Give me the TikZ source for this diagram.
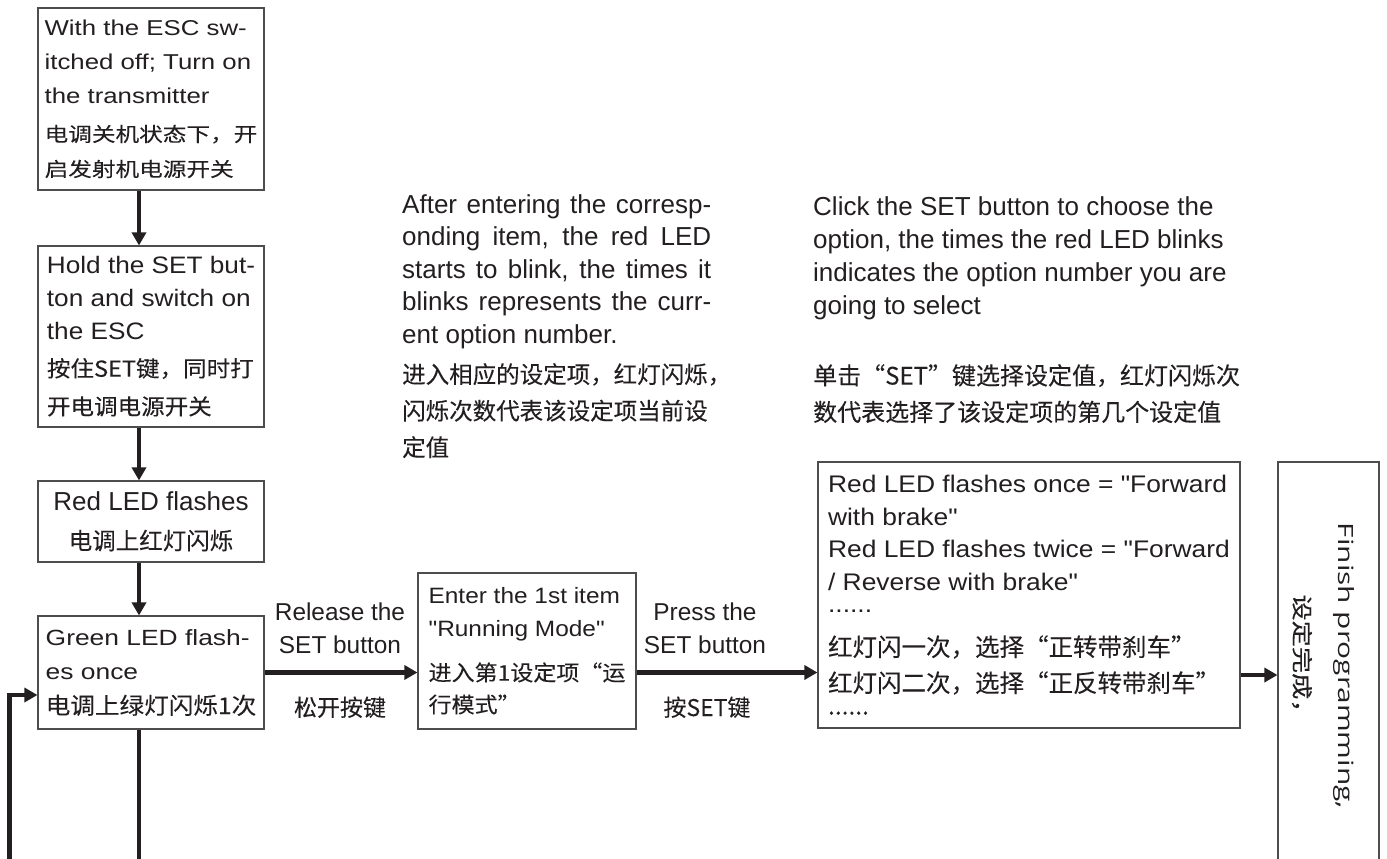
\documentclass[tikz,border=0pt]{standalone}
\usepackage{fontspec}
\setmainfont{Liberation Sans}
\newfontfamily\enA[FakeStretch=1.2]{Liberation Sans}
\newfontfamily\enB[FakeStretch=1.1]{Liberation Sans}
\newfontfamily\enC{Liberation Sans}
\newfontfamily\zhA[FakeStretch=1.2,FakeBold=0.12]{Noto Sans CJK SC}
\newfontfamily\zhB[FakeStretch=1.07,FakeBold=0.12]{Noto Sans CJK SC}
\newfontfamily\zhC[FakeBold=0.12]{Noto Sans CJK SC}
\newfontfamily\finEn[FakeStretch=1.42]{Open Sans}
\newfontfamily\finZh[FakeStretch=1.25,FakeBold=0.12]{Noto Sans CJK SC}
\usetikzlibrary{arrows.meta}
\definecolor{ink}{HTML}{231F20}
\definecolor{frame}{HTML}{4D4D4D}
\begin{document}
\begin{tikzpicture}[x=1pt,y=-1pt,
  box/.style={draw=frame, line width=1.1pt, inner sep=0pt, text=ink, align=left},
  lbl/.style={inner sep=0pt, text=ink, align=left},
  arr/.style={draw=ink, line width=4.5pt, -{Triangle[length=13pt,width=14pt]}},
  ln/.style={draw=ink, line width=4.5pt},
]
\useasboundingbox (0,0) rectangle (1387,859);
\coordinate (colx) at (139,0);

% left column boxes
\node[box, minimum width=226pt, minimum height=182pt,
  font=\enA\fontsize{21.5}{34}\selectfont] (b1) at (151,99)
  {With the ESC sw-\\itched off; Turn on\\the transmitter\\[4pt]
   {\zhA\fontsize{19.7}{34}\selectfont 电调关机状态下，开}\\[1pt]
   {\zhA\fontsize{19.7}{34}\selectfont 启发射机电源开关}};

\node[box, minimum width=226pt, minimum height=181pt,
  font=\enB\fontsize{23.8}{33}\selectfont] (b2) at (151,336.5)
  {Hold the SET but-\\ton and switch on\\the ESC\\[4pt]
   {\zhB\fontsize{22}{33}\selectfont 按住SET键，同时打}\\[5pt]
   {\zhB\fontsize{22}{33}\selectfont 开电调电源开关}};

\node[box, align=center, minimum width=226pt, minimum height=81pt,
  font=\enC\fontsize{26}{39}\selectfont] (b3) at (151,521.5)
  {Red LED flashes\\{\zhC\fontsize{23.5}{39}\selectfont 电调上红灯闪烁}};

\node[box, minimum width=226pt, minimum height=113pt,
  font=\enA\fontsize{22}{34}\selectfont] (b4) at (151,672.5)
  {Green LED flash-\\es once\\[1pt]
   {\zhB\fontsize{23}{34}\selectfont 电调上绿灯闪烁1次}};

% middle box
\node[box, minimum width=218pt, minimum height=156pt,
  font=\enB\fontsize{22.2}{33}\selectfont] (b5) at (527,651)
  {Enter the 1st item\\"Running Mode"\\[11pt]
   {\zhB\fontsize{21.5}{33}\selectfont 进入第1设定项“运}\\[-1pt]
   {\zhB\fontsize{21.5}{33}\selectfont 行模式”}};

% options box
\node[box, minimum width=422pt, minimum height=266pt,
  font=\enB\fontsize{24}{32.5}\selectfont] (b6) at (1029,595)
  {Red LED flashes once = "Forward\\with brake"\\Red LED flashes twice = "Forward\\/ Reverse with brake"\\[-10.5pt]
   ......\\[11.5pt]
   {\zhC\fontsize{24.5}{32.5}\selectfont 红灯闪一次，选择“正转带刹车”}\\[3.5pt]
   {\zhC\fontsize{24.5}{32.5}\selectfont 红灯闪二次，选择“正反转带刹车”}\\[-10pt]
   {\zhC\fontsize{24.5}{32.5}\selectfont ......}};

% finish box
\node[box, minimum width=101pt, minimum height=416pt] (b7) at (1328.5,670) {};
\node[lbl, rotate=-90, font=\finEn\fontsize{21}{26}\selectfont] (fe) at (1344,666) {Finish programming,};
\node[lbl, rotate=-90, font=\finZh\fontsize{21}{26}\selectfont] (fz) at (1302,660) {设定完成，};

% descriptions
\node[lbl, anchor=north west, font=\enC\fontsize{26}{32.5}\selectfont] (d1) at (402,194)
  {\makebox[309pt][s]{After entering the corresp-}\\
   \makebox[309pt][s]{onding item, the red LED}\\
   \makebox[309pt][s]{starts to blink, the times it}\\
   \makebox[309pt][s]{blinks represents the curr-}\\
   ent option number.};
\node[lbl, anchor=north west, font=\zhC\fontsize{23.5}{36.5}\selectfont] (d2) at (402,363)
  {进入相应的设定项，红灯闪烁，\\闪烁次数代表该设定项当前设\\定值};

\node[lbl, anchor=north west, font=\enC\fontsize{26}{33}\selectfont] (d3) at (813,196)
  {Click the SET button to choose the\\option, the times the red LED blinks\\indicates the option number you are\\going to select};
\node[lbl, anchor=north west, font=\zhC\fontsize{24}{36.5}\selectfont] (d4) at (813,364)
  {单击“SET”键选择设定值，红灯闪烁次\\数代表选择了该设定项的第几个设定值};

% arrow labels
\node[lbl, align=center, anchor=north, font=\enC\fontsize{24.4}{32.5}\selectfont] (r1) at (340,603)
  {Release the\\SET button};
\node[lbl, anchor=base, font=\zhC\fontsize{23}{30}\selectfont] (r2) at (340,716) {松开按键};
\node[lbl, align=center, anchor=north, font=\enC\fontsize{24.4}{32.5}\selectfont] (p1) at (705,603)
  {Press the\\SET button};
\node[lbl, anchor=base, font=\zhC\fontsize{23}{30}\selectfont] (p2) at (707,716) {按SET键};

% connectors
\draw[arr] (b1.south -| colx) -- (b2.north -| colx);
\draw[arr] (b2.south -| colx) -- (b3.north -| colx);
\draw[arr] (b3.south -| colx) -- (b4.north -| colx);
\coordinate (bb) at (139,875);
\draw[ln] (b4.south -| colx) -- (bb);
\coordinate (lb) at (9.5,875);
\coordinate (lc) at (9.5,695);
\draw[arr] (lb) -- (lc) -- (lc -| b4.west);
\draw[arr] (b4.east) -- (b4.east -| b5.west);
\draw[arr] (b5.east |- b4.east) -- (b6.west |- b4.east);
\draw[arr] (b6.east |- 0,675) -- (b7.west |- 0,675);
\end{tikzpicture}
\end{document}
